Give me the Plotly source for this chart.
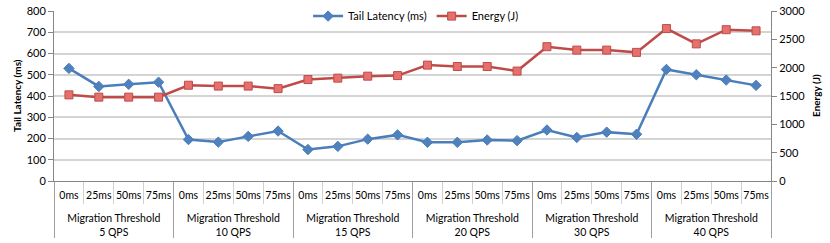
import plotly.graph_objects as go

groups = ["Migration Threshold<br>5 QPS", "Migration Threshold<br>10 QPS",
          "Migration Threshold<br>15 QPS", "Migration Threshold<br>20 QPS",
          "Migration Threshold<br>30 QPS", "Migration Threshold<br>40 QPS"]
thresholds = ["0ms", "25ms", "50ms", "75ms"]

latency = [530, 445, 455, 465,
           195, 183, 210, 235,
           148, 163, 197, 217,
           182, 182, 193, 190,
           240, 205, 230, 220,
           525, 500, 475, 450]

energy = [1520, 1480, 1480, 1480,
          1690, 1675, 1675, 1630,
          1790, 1815, 1850, 1860,
          2045, 2020, 2020, 1940,
          2370, 2310, 2310, 2270,
          2690, 2420, 2670, 2650]

left_ticks = [0, 100, 200, 300, 400, 500, 600, 700, 800]
right_ticks = [0, 500, 1000, 1500, 2000, 2500, 3000]

W, H = 830, 243
L, R, T, B = 54, 59, 11, 62
pw = W - L - R

sub_labels = [t + "<br>&nbsp;" for _ in groups for t in thresholds]
x = [[g for g in groups for _ in thresholds], sub_labels]
n_cat = len(sub_labels)

font = "Lato"

fig = go.Figure()
fig.add_trace(go.Scatter(
    x=x, y=latency, name="Tail Latency (ms)", mode="lines+markers",
    line=dict(color="#4A7EBB", width=2.5),
    marker=dict(symbol="diamond", size=8, color="#4F81BD",
                line=dict(color="#4A7EBB", width=1)),
    yaxis="y"))
fig.add_trace(go.Scatter(
    x=x, y=energy, name="Energy (J)", mode="lines+markers",
    line=dict(color="#BE4B48", width=2.5),
    marker=dict(symbol="square", size=8, color="#E5706D",
                line=dict(color="#BE4B48", width=1)),
    yaxis="y2"))

fig.update_layout(
    width=W, height=H,
    margin=dict(l=L, r=R, t=T, b=B, autoexpand=False),
    paper_bgcolor="white", plot_bgcolor="white",
    font=dict(family=font, size=11, color="#000000"),
    showlegend=True,
    legend=dict(orientation="h", x=0.505, xanchor="center", y=0.97, yanchor="middle",
                bgcolor="rgba(255,255,255,0)", font=dict(size=11),
                itemwidth=30, tracegroupgap=0),
    xaxis=dict(
        type="multicategory", tickangle=0, automargin=False,
        range=[-0.5, n_cat - 0.5],
        showline=True, linecolor="#868686", linewidth=1,
        ticks="outside", tickson="boundaries", ticklen=22, tickcolor="#d0d0d0",
        ticklabelstandoff=4,
        showdividers=True, dividercolor="#a0a0a0", dividerwidth=1,
        showgrid=False, tickfont=dict(size=10.5)),
    yaxis=dict(
        range=[0, 800], tickvals=left_ticks, showgrid=True, automargin=False,
        gridcolor="#d4d4d4", gridwidth=1.5, ticklabeloverflow="allow",
        showline=True, linecolor="#868686", linewidth=1,
        ticks="outside", ticklen=5, tickcolor="#868686",
        zeroline=False),
    yaxis2=dict(
        range=[0, 3000], tickvals=right_ticks, overlaying="y", side="right",
        automargin=False, ticklabeloverflow="allow",
        showgrid=False, showline=True, linecolor="#868686", linewidth=1,
        ticks="outside", ticklen=5, tickcolor="#868686", zeroline=False),
    annotations=[
        dict(text="<b>Tail Latency (ms)</b>", textangle=-90, xref="paper", yref="paper",
             x=(17 - L) / pw, y=0.5, xanchor="center", yanchor="middle",
             showarrow=False, font=dict(size=10)),
        dict(text="<b>Energy (J)</b>", textangle=-90, xref="paper", yref="paper",
             x=(816 - L) / pw, y=0.5, xanchor="center", yanchor="middle",
             showarrow=False, font=dict(size=10)),
    ],
)

fig.write_html("out.html",
               config={"displayModeBar": False},
               post_script="document.body.style.margin='0';document.body.style.overflow='hidden';")
